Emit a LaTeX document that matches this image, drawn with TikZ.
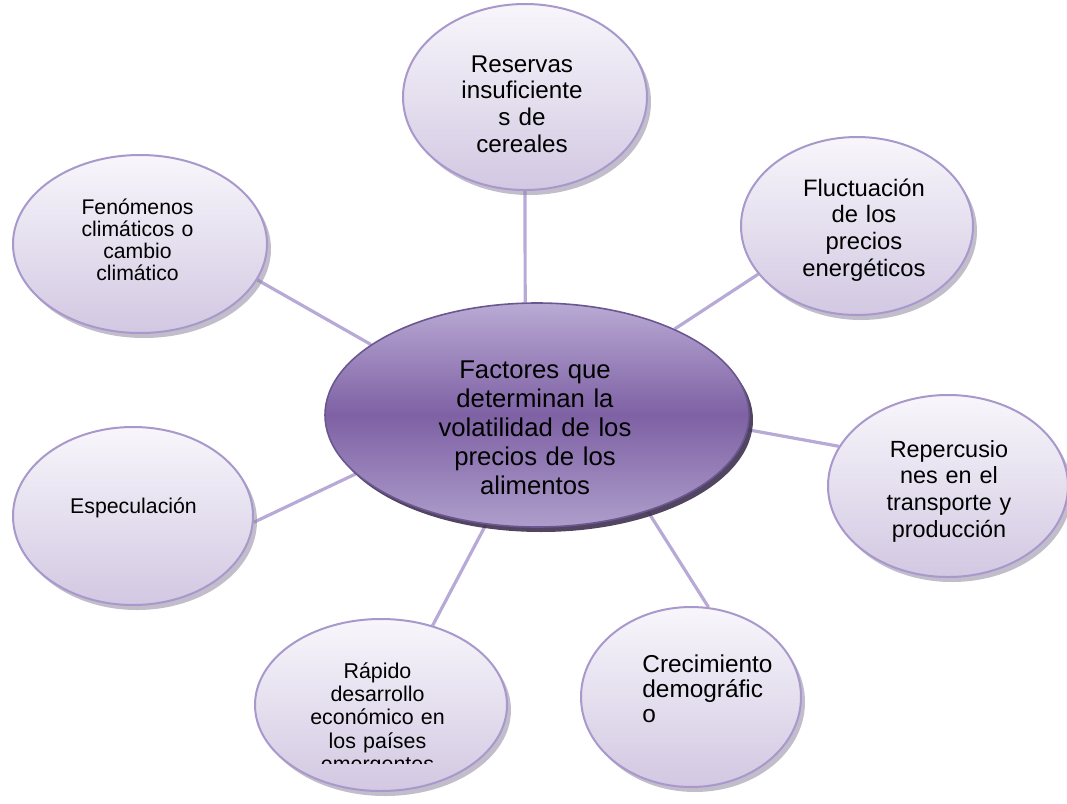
\documentclass[tikz,border=0pt]{standalone}
\usepackage{fontspec}
\setmainfont{Liberation Sans}
\usetikzlibrary{shapes.geometric,shadows}
\definecolor{outtop}{HTML}{F8F6FB}
\definecolor{outbot}{HTML}{D2C8E2}
\definecolor{outline}{HTML}{A898CB}
\definecolor{shad}{HTML}{8F869E}
\definecolor{conncol}{HTML}{B7AAD6}
\definecolor{centop}{HTML}{B9AAD4}
\definecolor{cenmid}{HTML}{7E61A4}
\definecolor{cenbot}{HTML}{AE9ECB}
\definecolor{cenline}{HTML}{6B5790}
\definecolor{censhad}{HTML}{3E3150}
\pgfdeclarelayer{background}
\pgfsetlayers{background,main}
\begin{document}
\begin{tikzpicture}[x=0.5pt,y=-0.5pt,
  outer/.style={ellipse, draw=outline, line width=1pt, top color=outtop, bottom color=outbot, inner sep=0pt,
    drop shadow={shadow xshift=2pt, shadow yshift=-2.5pt, fill=shad, opacity=0.55}},
  central/.style={ellipse, draw=cenline, line width=0.8pt, top color=centop, bottom color=cenbot, middle color=cenmid, inner sep=0pt,
    drop shadow={shadow xshift=2pt, shadow yshift=-2.5pt, fill=censhad, opacity=0.9}},
  conn/.style={draw=conncol, line width=1.6pt},
  lbl/.style={text=black, inner sep=0pt, align=center, anchor=base, text width=110pt}]
\useasboundingbox (0,0) rectangle (1067,804);

% ellipses
\node[central, minimum width=212pt, minimum height=112pt] (cen) at (537,415) {};
\node[outer, minimum width=122pt, minimum height=93pt] (res) at (525,97) {};
\node[outer, minimum width=116pt, minimum height=89pt] (flu) at (857,226) {};
\node[outer, minimum width=120pt, minimum height=91pt] (rep) at (948,486) {};
\node[outer, minimum width=110pt, minimum height=90pt] (cre) at (691,697) {};
\node[outer, minimum width=126pt, minimum height=86pt] (rap) at (381,705) {};
\node[outer, minimum width=120pt, minimum height=89pt] (esp) at (133,516) {};
\node[outer, minimum width=127pt, minimum height=89pt] (fen) at (140,244) {};

% connectors
\begin{pgfonlayer}{background}
\draw[conn] (cen.96) -- (res.270);
\draw[conn] (cen.32) -- (flu.206);
\draw[conn] (cen.-4) -- (rep.160);
\draw[conn] (cen.-41) -- (cre.79);
\draw[conn] (cen.245) -- (rap.57);
\draw[conn] (cen.198) -- (esp.-3);
\draw[conn] (cen.157) -- (fen.-17);
\end{pgfonlayer}

% texts
\node[lbl, font=\fontsize{12.85}{14.5}\selectfont, text width=150pt] (cen-t) at (535,378)
  {Factores que\\determinan la\\volatilidad de los\\precios de los\\alimentos};
\node[lbl, font=\fontsize{12.1}{13.35}\selectfont] (res-t) at (522,72)
  {Reservas\\insuficiente\\s de\\cereales};
\begin{scope}
\clip (740,140) rectangle (985,280);
\node[lbl, font=\fontsize{11.9}{13.45}\selectfont] (flu-t) at (864,196)
  {Fluctuación\\de los\\precios\\energéticos};
\end{scope}
\begin{scope}
\clip (825,400) rectangle (1067,541);
\node[lbl, font=\fontsize{11.7}{13.4}\selectfont] (rep-t) at (949,457)
  {Repercusio\\nes en el\\transporte y\\producción};
\end{scope}
\node[lbl, font=\fontsize{12.2}{12.7}\selectfont, align=left, anchor=base west, text width=100pt] (cre-t) at (642,672)
  {Crecimiento\\demográfic\\o};
\begin{scope}
\clip (250,610) rectangle (510,763);
\node[lbl, font=\fontsize{10.7}{11.7}\selectfont] (rap-t) at (377.5,678)
  {Rápido\\desarrollo\\económico en\\los países\\emergentes};
\end{scope}
\node[lbl, font=\fontsize{10.65}{11.15}\selectfont] (esp-t) at (133.5,513) {Especulación};
\node[lbl, font=\fontsize{10.6}{11.15}\selectfont] (fen-t) at (137.5,214)
  {Fenómenos\\climáticos o\\cambio\\climático};
\end{tikzpicture}
\end{document}
